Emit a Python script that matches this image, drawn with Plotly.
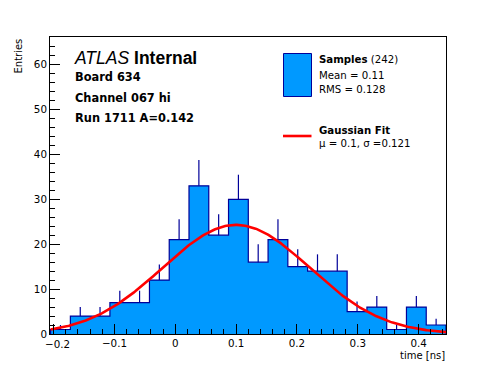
import numpy as np
import plotly.graph_objects as go

# ---- data ----
bin_lo = -0.205
bin_width = 0.0325
counts = [1, 4, 4, 7, 7, 12, 21, 33, 22, 30, 16, 21, 15, 14, 14, 5, 6, 1, 6, 2]
fit_mu = 0.1
fit_sigma = 0.121
fit_amp = 24.3
x_range = [-0.206, 0.445]
y_range = [0, 66.15]
x_ticks = [-0.2, -0.1, 0, 0.1, 0.2, 0.3, 0.4]
x_tick_text = ["", "\u22120.1", "0", "0.1", "0.2", "0.3", "0.4"]
first_tick_label = "\u22120.2"

FILL = "#0099ff"
EDGE = "#000099"
RED = "#ff0000"
FONT = "DejaVu Sans, Liberation Sans, Arial, sans-serif"
FONT_ATLAS = "Liberation Sans, Arial, Helvetica, sans-serif"

n = len(counts)
edges = [bin_lo + i * bin_width for i in range(n + 1)]
centers = [bin_lo + (i + 0.5) * bin_width for i in range(n)]

# step outline
sx = [edges[0]] + edges[:-1] + [edges[-1], edges[-1]]
sy = [0] + counts + [counts[-1], 0]

fig = go.Figure()
fig.add_trace(go.Scatter(x=sx, y=sy, mode="lines", line=dict(color=EDGE, width=1.2, shape="hv"),
                         fill="tozeroy", fillcolor=FILL, hoverinfo="skip", showlegend=False))

# upper error bars
ex, ey = [], []
for c, v in zip(centers, counts):
    ex += [c, c, None]
    ey += [v, v + np.sqrt(v), None]
fig.add_trace(go.Scatter(x=ex, y=ey, mode="lines", line=dict(color=EDGE, width=1.2),
                         hoverinfo="skip", showlegend=False))

# gaussian fit curve
gx = np.linspace(edges[0], edges[-1], 300)
gy = fit_amp * np.exp(-0.5 * ((gx - fit_mu) / fit_sigma) ** 2)
fig.add_trace(go.Scatter(x=gx, y=gy, mode="lines", line=dict(color=RED, width=2.6),
                         hoverinfo="skip", showlegend=False))

# page body has an 8px margin: figure sits at (8, 8) in the window
OFF = 8
W, H = 496 - OFF, 372 - OFF
PX0, PX1, PY0, PY1 = 50, 446, 37, 334   # plot area in window pixels
L, R, T, B = PX0 - OFF, (W + OFF) - PX1, PY0 - OFF, (H + OFF) - PY1
pw, ph = PX1 - PX0, PY1 - PY0

def px(x):
    return (x - PX0) / pw

def py(y):
    return (PY1 - y) / ph

annotations = []
def txt(text, x, y, size, xanchor="left", yanchor="middle", textangle=0, family=FONT):
    annotations.append(dict(text=text, x=px(x), y=py(y), xref="paper", yref="paper",
                            xanchor=xanchor, yanchor=yanchor, showarrow=False,
                            textangle=textangle,
                            font=dict(family=family, size=size, color="black")))

txt("<i>ATLAS</i> <b>Internal</b>", 72, 58, 17.5, family=FONT_ATLAS)
txt("<b>Board 634</b>", 73, 76.5, 11.4)
txt("<b>Channel 067 hi</b>", 73, 97.5, 11.4)
txt("<b>Run 1711 A=0.142</b>", 73, 117.5, 11.4)

txt("<b>Samples</b> (242)", 317, 59, 10.2)
txt("Mean = 0.11", 317, 75, 10.2)
txt("RMS = 0.128", 317, 89.5, 10.2)
txt("<b>Gaussian Fit</b>", 317, 130.5, 10.2)
txt("\u03bc = 0.1, \u03c3 =0.121", 317, 143.5, 10.2)

txt("Entries", 18, 37, 10, xanchor="center", yanchor="top", textangle=-90)
txt("time [ns]", 447, 356, 10, xanchor="right")
# first x tick label is nudged right in the reference (as ROOT does at the axis edge)
txt(first_tick_label, 57, 344.5, 10.3, xanchor="center")

shapes = [
    dict(type="rect", xref="paper", yref="paper", x0=px(283.5), x1=px(311.5), y0=py(96.5), y1=py(53.5),
         fillcolor=FILL, line=dict(color=EDGE, width=1)),
    dict(type="line", xref="paper", yref="paper", x0=px(283), x1=px(311.5), y0=py(136), y1=py(136),
         line=dict(color=RED, width=2.6)),
]

fig.update_layout(
    width=W, height=H,
    margin=dict(l=L, r=R, t=T, b=B, pad=0),
    paper_bgcolor="white", plot_bgcolor="white",
    font=dict(family=FONT, size=10, color="black"),
    annotations=annotations, shapes=shapes,
    showlegend=False,
)
fig.update_xaxes(range=x_range, showgrid=False, zeroline=False,
                 showline=True, linecolor="black", linewidth=1, mirror=True,
                 ticks="inside", ticklen=10, tickcolor="black", tickwidth=1,
                 tickvals=x_ticks, ticktext=x_tick_text,
                 minor=dict(dtick=0.02, tick0=0, ticks="inside", ticklen=5, tickcolor="black", showgrid=False),
                 tickfont=dict(size=10.3))
fig.update_yaxes(range=y_range, showgrid=False, zeroline=False,
                 showline=True, linecolor="black", linewidth=1, mirror=True,
                 ticks="inside", ticklen=10, tickcolor="black", tickwidth=1,
                 dtick=10, tick0=0,
                 minor=dict(dtick=2, tick0=0, ticks="inside", ticklen=5, tickcolor="black", showgrid=False),
                 tickfont=dict(size=10.3))

fig.write_html("out.html")
